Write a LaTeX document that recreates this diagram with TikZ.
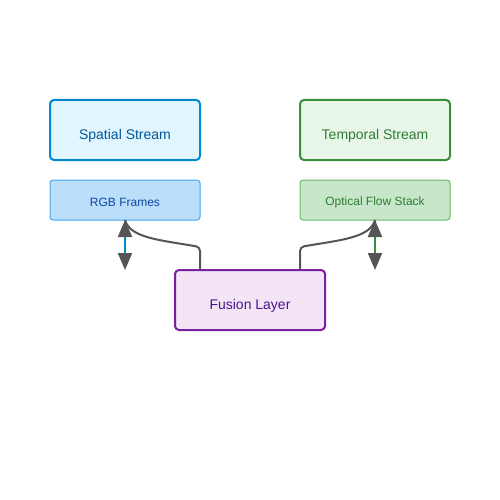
\documentclass[tikz,border=0pt]{standalone}
\usepackage{fontspec}
\setmainfont{Liberation Sans}
\usetikzlibrary{arrows.meta}
\definecolor{sfill}{HTML}{E1F5FE}\definecolor{sline}{HTML}{0288D1}\definecolor{stext}{HTML}{01579B}
\definecolor{tfill}{HTML}{E8F5E9}\definecolor{tline}{HTML}{388E3C}\definecolor{ttext}{HTML}{2E7D32}
\definecolor{rfill}{HTML}{BBDEFB}\definecolor{rline}{HTML}{42A5F5}\definecolor{rtext}{HTML}{0D47A1}
\definecolor{ofill}{HTML}{C8E6C9}\definecolor{oline}{HTML}{66BB6A}\definecolor{otext}{HTML}{2E7D32}
\definecolor{ffill}{HTML}{F3E5F5}\definecolor{fline}{HTML}{7B1FA2}\definecolor{ftext}{HTML}{4A148C}
\definecolor{conn}{HTML}{555555}
\begin{document}
\begin{tikzpicture}[x=1pt,y=-1pt,
  bigbox/.style={draw,line width=2pt,rounded corners=4pt,minimum width=150pt,minimum height=60pt,inner sep=0pt},
  smallbox/.style={draw,line width=1pt,rounded corners=3pt,minimum width=150pt,minimum height=40pt,inner sep=0pt},
  bigtext/.style={font=\fontsize{14}{16}\selectfont},
  smalltext/.style={font=\fontsize{12}{14}\selectfont},
  stem/.style={line width=2pt,{Triangle[length=17pt,width=14pt,color=conn]}-{Triangle[length=17pt,width=14pt,color=conn]}},
  curvy/.style={draw=conn,line width=2pt,rounded corners=4pt}]
\useasboundingbox (0,0) rectangle (500,500);
\node[bigbox,fill=sfill,draw=sline] (spatial) at (125,130) {};
\node[bigtext,text=stext] (spatialt) at (125,136) {Spatial Stream};
\node[bigbox,fill=tfill,draw=tline] (temporal) at (375,130) {};
\node[bigtext,text=ttext] (temporalt) at (375,136) {Temporal Stream};
\node[smallbox,fill=rfill,draw=rline] (rgb) at (125,200) {};
\node[smalltext,text=rtext] (rgbt) at (125,202) {RGB Frames};
\node[smallbox,fill=ofill,draw=oline] (flow) at (375,200) {};
\node[smalltext,text=otext] (flowt) at (375,202) {Optical Flow Stack};
\node[bigbox,fill=ffill,draw=fline] (fusion) at (250,300) {};
\node[bigtext,text=ftext] (fusiont) at (250,306) {Fusion Layer};
\coordinate (rgbend) at (125,270);
\coordinate (flowend) at (375,270);
\coordinate (rgbtop) at (125,220);
\coordinate (flowtop) at (375,220);
\draw[curvy] (fusion.north -| 200,0) -- (200,247) .. controls (160,240) and (130,238) .. (rgbtop);
\draw[curvy] (fusion.north -| 300,0) -- (300,247) .. controls (340,240) and (370,238) .. (flowtop);
\draw[stem,draw=sline] (rgbtop) -- (rgbend);
\draw[stem,draw=tline] (flowtop) -- (flowend);
\end{tikzpicture}
\end{document}
